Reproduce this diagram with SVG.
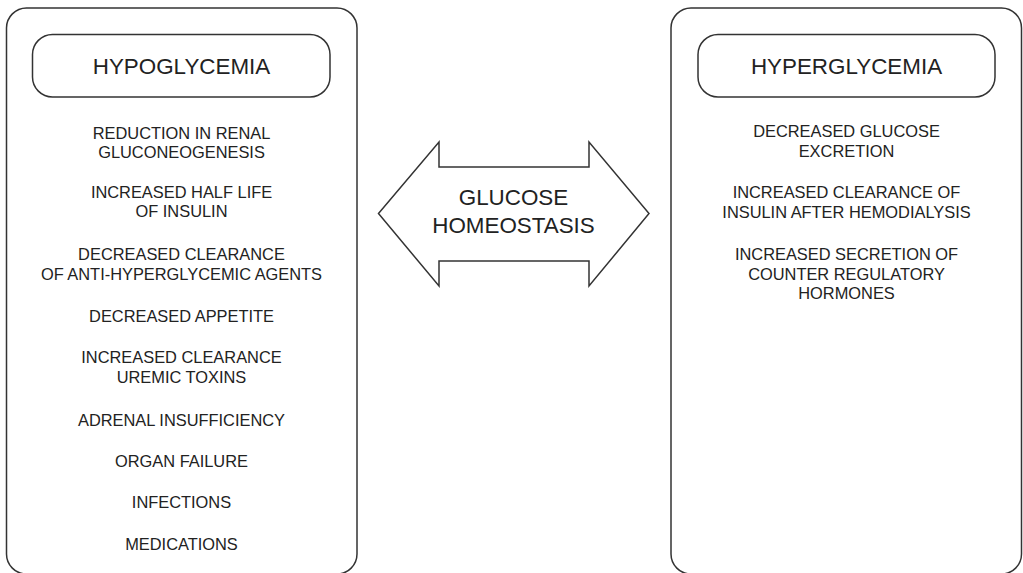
<svg xmlns="http://www.w3.org/2000/svg" width="1023" height="573" viewBox="0 0 1023 573">
<style>
.box{fill:#fff;stroke:#333;stroke-width:1.5}
.t{font-family:"Liberation Sans",Arial,sans-serif;fill:#222;text-anchor:middle}
.item{font-size:16.4px}
.head{font-size:22.4px}
</style>
<rect width="1023" height="573" fill="#fff"/>
<g id="hypoglycemia">
<rect class="box" x="6.5" y="8" width="350.5" height="566" rx="20"/>
<rect class="box" x="32.5" y="34.5" width="297.5" height="62.5" rx="20"/>
<text class="t head" x="181.5" y="74">HYPOGLYCEMIA</text>
<text class="t item" x="181.5" y="139">REDUCTION IN RENAL</text>
<text class="t item" x="181.5" y="157.5">GLUCONEOGENESIS</text>
<text class="t item" x="181.5" y="198">INCREASED HALF LIFE</text>
<text class="t item" x="181.5" y="217">OF INSULIN</text>
<text class="t item" x="181.5" y="260">DECREASED CLEARANCE</text>
<text class="t item" x="181.5" y="280">OF ANTI-HYPERGLYCEMIC AGENTS</text>
<text class="t item" x="181.5" y="322">DECREASED APPETITE</text>
<text class="t item" x="181.5" y="363">INCREASED CLEARANCE</text>
<text class="t item" x="181.5" y="383">UREMIC TOXINS</text>
<text class="t item" x="181.5" y="426">ADRENAL INSUFFICIENCY</text>
<text class="t item" x="181.5" y="467">ORGAN FAILURE</text>
<text class="t item" x="181.5" y="508">INFECTIONS</text>
<text class="t item" x="181.5" y="550">MEDICATIONS</text>
</g>
<g id="hyperglycemia">
<rect class="box" x="671" y="8" width="350.5" height="566" rx="20"/>
<rect class="box" x="698" y="34.5" width="297" height="62.5" rx="20"/>
<text class="t head" x="846.5" y="74">HYPERGLYCEMIA</text>
<text class="t item" x="846.5" y="137">DECREASED GLUCOSE</text>
<text class="t item" x="846.5" y="157">EXCRETION</text>
<text class="t item" x="846.5" y="198">INCREASED CLEARANCE OF</text>
<text class="t item" x="846.5" y="218">INSULIN AFTER HEMODIALYSIS</text>
<text class="t item" x="846.5" y="260">INCREASED SECRETION OF</text>
<text class="t item" x="846.5" y="280">COUNTER REGULATORY</text>
<text class="t item" x="846.5" y="299">HORMONES</text>
</g>
<g id="connectors">
<g id="glucose-homeostasis">
<polygon class="box" points="378.5,213.5 439,142 439,167 589,167 589,142 649,213.5 589,286 589,261 439,261 439,286"/>
<text class="t head" x="513.5" y="205">GLUCOSE</text>
<text class="t head" x="513.5" y="233">HOMEOSTASIS</text>
</g>
</g>
</svg>
